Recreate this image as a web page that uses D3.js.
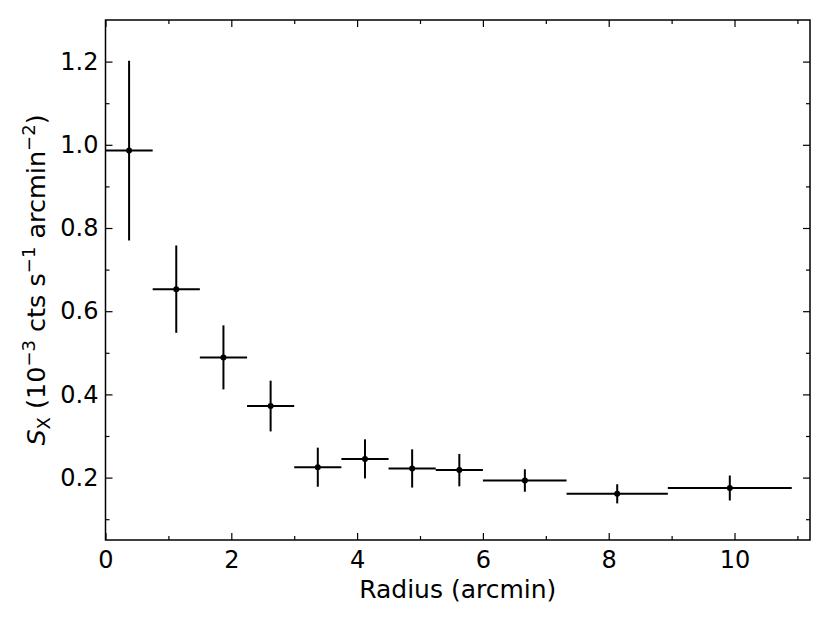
<!DOCTYPE html>
<html><head><meta charset="utf-8">
<script src="https://cdn.jsdelivr.net/npm/d3@7"></script>
<style>
body{margin:0;background:#fff;}
text{font-family:"DejaVu Sans",sans-serif;fill:#000;}
</style></head>
<body><svg id="c" width="830" height="623"></svg>
<script>
const binLow  = [0, 0.75, 1.5, 2.25, 3.0, 3.75, 4.5, 5.25, 6.0, 7.33, 8.94];
const binHigh = [0.75, 1.5, 2.25, 3.0, 3.75, 4.5, 5.25, 6.0, 7.33, 8.94, 10.91];
const xCenter = [0.375, 1.125, 1.875, 2.625, 3.375, 4.125, 4.875, 5.625, 6.667, 8.135, 9.925];
const yValue  = [0.986, 0.653, 0.489, 0.372, 0.225, 0.245, 0.222, 0.218, 0.193, 0.161, 0.175];
const yErr    = [0.216, 0.105, 0.077, 0.061, 0.047, 0.047, 0.046, 0.039, 0.027, 0.023, 0.030];
const xTicks = [0, 2, 4, 6, 8, 10];
const xMinor = [1, 3, 5, 7, 9, 11];
const yTicks = [0.2, 0.4, 0.6, 0.8, 1.0, 1.2];
const yMinor = [0.1, 0.3, 0.5, 0.7, 0.9, 1.1];

const L = 105.5, R = 810, T = 20, B = 540;
const x = d3.scaleLinear().domain([0, 11.2]).range([L, R]);
const y = d3.scaleLinear().domain([0.05, 1.3]).range([B, T]);
const svg = d3.select("#c");

const data = xCenter.map((c, i) => ({c, lo: binLow[i], hi: binHigh[i], v: yValue[i], e: yErr[i]}));
const g = svg.append("g");
g.selectAll(".h").data(data).join("line")
  .attr("x1", d => x(d.lo)).attr("x2", d => x(d.hi))
  .attr("y1", d => y(d.v)).attr("y2", d => y(d.v))
  .attr("stroke", "#000").attr("stroke-width", 2);
g.selectAll(".v").data(data).join("line")
  .attr("x1", d => x(d.c)).attr("x2", d => x(d.c))
  .attr("y1", d => y(d.v - d.e)).attr("y2", d => y(d.v + d.e))
  .attr("stroke", "#000").attr("stroke-width", 2);
g.selectAll("circle").data(data).join("circle")
  .attr("cx", d => x(d.c)).attr("cy", d => y(d.v)).attr("r", 3).attr("fill", "#000");

// axes (inward ticks, mirrored)
const fmt = d3.format(".1f");
function styleAxis(sel){
  sel.select(".domain").remove();
  sel.selectAll("line").attr("stroke", "#000").attr("stroke-width", 1.2);
  sel.selectAll("text").style("font-size", "24px").style("font-family", '"DejaVu Sans", sans-serif');
}
svg.append("g").attr("transform", `translate(0,${B})`)
  .call(d3.axisBottom(x).tickValues(xTicks).tickSize(-7).tickPadding(11).tickFormat(d3.format("d"))).call(styleAxis);
svg.append("g").attr("transform", `translate(0,${B})`)
  .call(d3.axisBottom(x).tickValues(xMinor).tickSize(-4).tickFormat("")).call(styleAxis);
svg.append("g").attr("transform", `translate(0,${T})`)
  .call(d3.axisTop(x).tickValues(xTicks).tickSize(-7).tickFormat("")).call(styleAxis);
svg.append("g").attr("transform", `translate(0,${T})`)
  .call(d3.axisTop(x).tickValues(xMinor).tickSize(-4).tickFormat("")).call(styleAxis);
svg.append("g").attr("transform", `translate(${L},0)`)
  .call(d3.axisLeft(y).tickValues(yTicks).tickSize(-7).tickPadding(7).tickFormat(fmt)).call(styleAxis);
svg.append("g").attr("transform", `translate(${L},0)`)
  .call(d3.axisLeft(y).tickValues(yMinor).tickSize(-4).tickFormat("")).call(styleAxis);
svg.append("g").attr("transform", `translate(${R},0)`)
  .call(d3.axisRight(y).tickValues(yTicks).tickSize(-7).tickFormat("")).call(styleAxis);
svg.append("g").attr("transform", `translate(${R},0)`)
  .call(d3.axisRight(y).tickValues(yMinor).tickSize(-4).tickFormat("")).call(styleAxis);

svg.append("rect").attr("x", L).attr("y", T).attr("width", R - L).attr("height", B - T)
  .attr("fill", "none").attr("stroke", "#000").attr("stroke-width", 1.5);

// labels
svg.append("text").attr("x", (L + R) / 2).attr("y", 598).attr("text-anchor", "middle")
  .style("font-size", "25px").text("Radius (arcmin)");

const yl = svg.append("text").attr("transform", `translate(45,${(T + B) / 2}) rotate(-90)`)
  .attr("text-anchor", "middle").style("font-size", "25.5px");
yl.append("tspan").style("font-style", "italic").text("S");
yl.append("tspan").attr("dy", 5).style("font-size", "18px").text("X");
yl.append("tspan").attr("dy", -5).text(" (10");
yl.append("tspan").attr("dy", -10).style("font-size", "18px").text("−3");
yl.append("tspan").attr("dy", 10).text(" cts s");
yl.append("tspan").attr("dy", -10).style("font-size", "18px").text("−1");
yl.append("tspan").attr("dy", 10).text(" arcmin");
yl.append("tspan").attr("dy", -10).style("font-size", "18px").text("−2");
yl.append("tspan").attr("dy", 10).text(")");
</script></body></html>
